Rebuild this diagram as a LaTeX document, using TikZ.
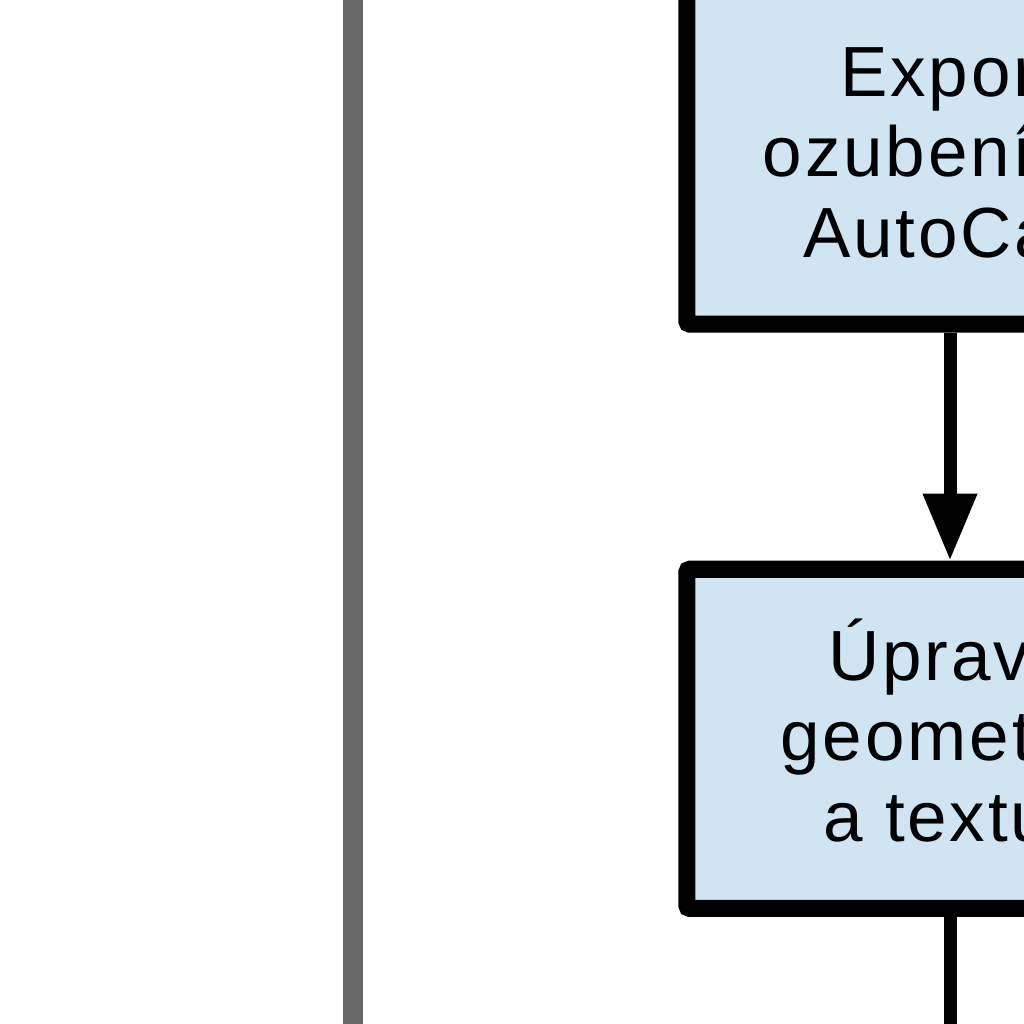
\documentclass[tikz,border=0pt]{standalone}
\usepackage{fontspec}
\setmainfont{Liberation Sans}[LetterSpace=4.0]
\usepackage{tikz}
\usetikzlibrary{arrows.meta,positioning}
\definecolor{boxfill}{RGB}{208,228,242}
\definecolor{barcolor}{RGB}{104,104,104}
\tikzstyle{process} = [rectangle, minimum width=5.26cm, minimum height=3.39cm, text centered, align=center, draw=black, line width=0.17cm, rounded corners=0.03cm, fill=boxfill, text height=2.25cm, text depth=0.2cm, font=\fontsize{20.2pt}{22.9pt}\selectfont]
\tikzstyle{arrow} = [line width=0.13cm, -{Triangle[length=0.67cm,width=0.51cm]}]
\tikzstyle{line} = [line width=0.13cm]

\begin{document}
\begin{tikzpicture}[x=0.01cm,y=-0.01cm]
\useasboundingbox (0,0) rectangle (1024,1024);
\clip (0,0) rectangle (1024,1024);
% svisly pruh vlevo
\fill[barcolor] (343,-10) rectangle (363,1034);
\node[process] (export) at (950,154.5)
          {Export\\ozubení do\\AutoCad};
\node[process] (uprava) at (export) [xshift=0cm,yshift=-5.84cm]
          {Úprava\\geometrie\\a textur};
\coordinate (dalsi) at ([yshift=-3cm]uprava.south);
\draw[arrow] (export) -- (uprava);
\draw[line] (uprava) -- (dalsi);
\end{tikzpicture}
\end{document}
